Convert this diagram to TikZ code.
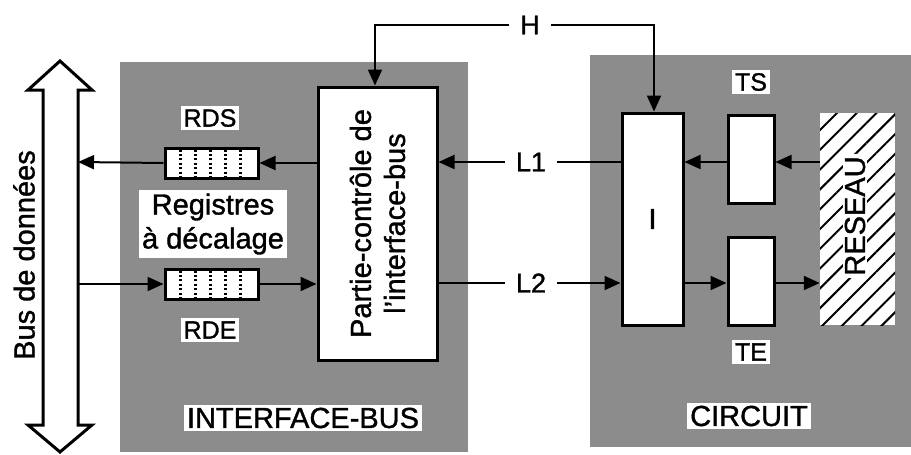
\documentclass[tikz,border=0pt]{standalone}
\usepackage{fontspec}
\setmainfont{Liberation Sans}[FakeBold=1.2]
\usetikzlibrary{arrows.meta,patterns.meta}
\begin{document}
\begin{tikzpicture}[x=1pt,y=-1pt,
  region/.style={fill=black!45, draw=none},
  box/.style={draw, line width=3pt, fill=white, inner sep=0pt},
  reg/.style={draw, line width=3pt, fill=white, inner sep=0pt, minimum width=93pt, minimum height=30pt},
  dotline/.style={line width=2.2pt, dash pattern=on 2pt off 2.4pt},
  lbl/.style={fill=white, inner sep=3pt, font=\fontsize{25}{30}\selectfont},
  big/.style={font=\fontsize{29}{34}\selectfont},
  sig/.style={font=\fontsize{27}{30}\selectfont, fill=white, inner xsep=11pt, inner ysep=2pt},
  conn/.style={line width=2pt, -{Triangle[length=16pt,width=14pt]}},
  wire/.style={line width=2pt},
]
\useasboundingbox (0,0) rectangle (911,455);
\fill[white] (0,0) rectangle (911,455);

% shaded regions
\fill[region] (120,62) rectangle (468,452);
\fill[region] (590,55) rectangle (911,447);

% data bus double arrow
\draw[line width=3pt, fill=white, line join=miter, miter limit=4]
  (43,90) -- (28,90) -- (60,61) -- (92,90) -- (78,90) -- (78,425) -- (92,425)
  -- (60,452) -- (28,425) -- (43,425) -- cycle;
\coordinate (busA) at (78,162);
\coordinate (busB) at (78,284);
\node[big, rotate=90] (buslbl) at (24,255) {Bus de données};

% interface-bus part
\node[box, minimum width=119pt, minimum height=273pt] (pc) at (377.5,223.5) {};
\node[big, rotate=90, align=center] (pctext) at (pc.center) {Partie-contrôle de\\l'interface-bus};

\node[reg] (rds) at (211.5,163) {};
\node[reg] (rde) at (211.5,284) {};
\foreach \dx in {-31,-16,-1,14,29} {
  \draw[dotline] ([xshift=\dx pt, yshift=-3pt]rds.north) -- ([xshift=\dx pt, yshift=3pt]rds.south);
  \draw[dotline] ([xshift=\dx pt, yshift=-3pt]rde.north) -- ([xshift=\dx pt, yshift=3pt]rde.south);
}
\node[lbl] (rdsl) at (210,118) {RDS};
\node[lbl] (rdel) at (210,330) {RDE};
\node[big, fill=white, align=center, inner sep=3pt] (regl) at (213,224) {Registres\\à décalage};
\node[big, fill=white, inner sep=3pt] (ibus) at (303,418) {INTERFACE-BUS};

% circuit part
\node[box, minimum width=61pt, minimum height=212pt] (I) at (652.5,219) {};
\node[big] (Il) at (I.center) {I};
\node[box, minimum width=46pt, minimum height=88pt] (TS) at (751,159) {};
\node[box, minimum width=46pt, minimum height=88pt] (TE) at (751,281) {};
\node[lbl] (TSl) at (751,82) {TS};
\node[lbl] (TEl) at (751,352) {TE};
\node[big, fill=white, inner sep=3pt] (circ) at (749,416) {CIRCUIT};
\node[fill=white, inner sep=0pt, minimum width=75pt, minimum height=212pt,
  postaction={pattern={Lines[angle=45,distance=14pt,line width=2pt]}}] (res) at (857.5,219) {};
\node[big, rotate=90, fill=white, inner sep=2pt] (resl) at (855,216) {RESEAU};

% signals
\node[sig] (H) at (530,25) {H};
\node[sig] (L1) at (531,162) {L1};
\node[sig] (L2) at (531,283) {L2};
\coordinate (hL) at (375,25);
\coordinate (hR) at (654,25);
\draw[conn] (H.west) -- (hL) -- (pc.north -| hL);
\draw[conn] (H.east) -- (hR) -- (I.north -| hR);
\draw[wire] (I.west |- L1) -- (L1.east);
\draw[conn] (L1.west) -- (pc.east |- L1);
\draw[wire] (pc.east |- L2) -- (L2.west);
\draw[conn] (L2.east) -- (I.west |- L2);

\draw[conn] (pc.west |- rds) -- (rds.east);
\draw[conn] (rds.west) -- (busA);
\draw[conn] (busB) -- (rde.west);
\draw[conn] (rde.east) -- (pc.west |- rde);

\draw[conn] (TS.west |- L1) -- (I.east |- L1);
\draw[conn] (res.west |- L1) -- (TS.east |- L1);
\draw[conn] (I.east |- L2) -- (TE.west |- L2);
\draw[conn] (TE.east |- L2) -- (res.west |- L2);
\end{tikzpicture}
\end{document}
